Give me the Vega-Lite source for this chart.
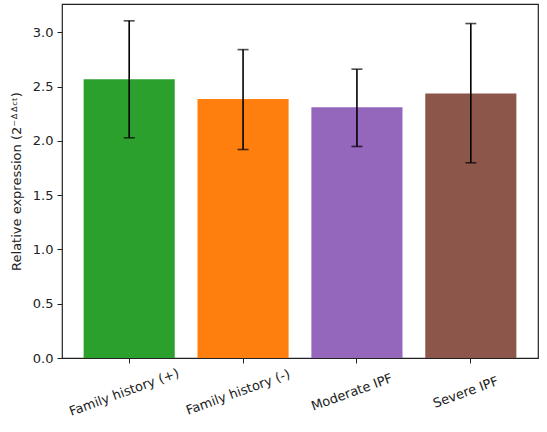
{
  "$schema": "https://vega.github.io/schema/vega-lite/v6.json",
  "autosize": {"type": "none"},
  "padding": {"left": 62, "top": 4, "right": 9, "bottom": 74},
  "width": 476,
  "height": 354,
  "background": "white",
  "config": {
    "font": "DejaVu Sans",
    "view": {"stroke": "#222222", "strokeWidth": 1.2},
    "axis": {
      "grid": false,
      "domain": false,
      "tickColor": "#222222",
      "tickSize": 5,
      "labelColor": "#222222",
      "labelFont": "DejaVu Sans",
      "labelFontSize": 13,
      "titleFont": "DejaVu Sans",
      "titleFontSize": 13,
      "titleFontWeight": "normal",
      "titleColor": "#222222"
    }
  },
  "data": {
    "values": [
      {"group": "Family history (+)", "value": 2.567, "lo": 2.028, "hi": 3.105},
      {"group": "Family history (-)", "value": 2.385, "lo": 1.92, "hi": 2.84},
      {"group": "Moderate IPF", "value": 2.31, "lo": 1.948, "hi": 2.66},
      {"group": "Severe IPF", "value": 2.435, "lo": 1.798, "hi": 3.08}
    ]
  },
  "encoding": {
    "x": {
      "field": "group",
      "type": "nominal",
      "sort": null,
      "scale": {"paddingInner": 0.2, "paddingOuter": 0.19},
      "axis": {"title": null, "labelAngle": -20, "labelAlign": "center", "labelBaseline": "middle", "labelPadding": 29, "labelOffset": -5}
    }
  },
  "layer": [
    {
      "mark": {"type": "bar"},
      "encoding": {
        "y": {
          "field": "value",
          "type": "quantitative",
          "scale": {"domain": [0, 3.26], "nice": false},
          "axis": {"title": "Relative expression (2⁻ᐞᐞᶜᵗ)", "values": [0, 0.5, 1, 1.5, 2, 2.5, 3], "format": ".1f", "titlePadding": 9, "labelPadding": 4}
        },
        "color": {
          "field": "group",
          "type": "nominal",
          "sort": null,
          "scale": {"range": ["#2ca02c", "#ff7f0e", "#9467bd", "#8c564b"]},
          "legend": null
        }
      }
    },
    {
      "mark": {"type": "rule", "color": "black", "strokeWidth": 1.6},
      "encoding": {
        "y": {"field": "lo", "type": "quantitative"},
        "y2": {"field": "hi"}
      }
    },
    {
      "mark": {"type": "tick", "color": "black", "thickness": 1.6, "size": 11},
      "encoding": {"y": {"field": "lo", "type": "quantitative"}}
    },
    {
      "mark": {"type": "tick", "color": "black", "thickness": 1.6, "size": 11},
      "encoding": {"y": {"field": "hi", "type": "quantitative"}}
    }
  ]
}
